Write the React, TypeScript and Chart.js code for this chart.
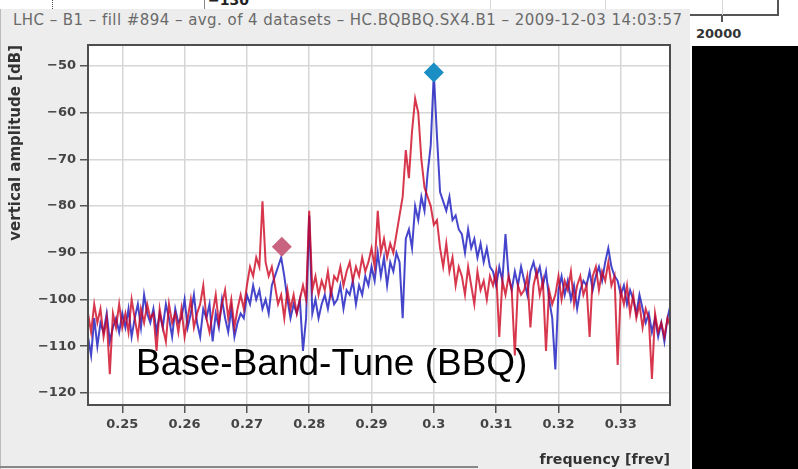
import React, { useEffect, useRef } from "react";
import { Chart, registerables } from "chart.js";

Chart.register(...registerables);

// FFT bin grid of the spectrum (revolution-frequency units)
const FREQ_START = 0.2445;
const FREQ_STEP = 0.0005;

// averaged spectrum, red trace [dB]
const RED_DB = [
  -103, -107, -101, -105, -102, -108, -104, -116, -103, -106,
  -101, -106, -103, -107, -100, -104, -108, -102, -105, -101,
  -104, -103, -111, -102, -106, -109, -101, -105, -103, -107,
  -102, -108, -104, -100, -106, -103, -101, -97, -104, -107,
  -103, -99, -105, -101, -98, -104, -100, -106, -102, -99,
  -102, -97, -93, -95, -91, -93, -79, -92, -95, -93,
  -97, -101, -99, -104, -98, -102, -99, -103, -100, -97,
  -100, -81, -98, -95, -99, -96, -98, -94, -99, -95,
  -96, -93, -97, -94, -92, -96, -93, -95, -91, -94,
  -92, -89, -93, -81, -90, -87, -91, -88, -90, -86,
  -82, -78, -68, -74, -64, -57, -60, -70, -76, -78,
  -80, -84, -83, -89, -93, -88, -94, -91, -97, -93,
  -95, -99, -93, -97, -101, -94, -98, -96, -100, -95,
  -97, -94, -108, -96, -99, -95, -98, -112, -97, -99,
  -98, -95, -106, -97, -94, -99, -96, -111, -98, -101,
  -99, -95, -100, -96, -98, -94, -101, -97, -95, -99,
  -97, -108, -95, -93, -98, -94, -96, -92, -97, -95,
  -114, -98, -101, -97, -103, -99, -104, -101, -106, -102,
  -104, -117, -103, -107, -105, -108, -104, -106,
];

// averaged spectrum, blue trace [dB]
const BLUE_DB = [
  -108, -112, -104, -110, -105, -107, -103, -109, -106, -104,
  -107, -103, -106, -102, -108, -104, -101, -106, -99, -103,
  -105, -102, -107, -103, -106, -101, -104, -108, -102, -105,
  -104, -100, -106, -103, -99, -105, -108, -102, -104, -101,
  -109, -103, -106, -100, -104, -107, -102, -108, -105, -103,
  -104, -99, -101, -97, -100, -98, -102, -100, -103, -97,
  -95, -93, -91, -95, -100, -104, -101, -103, -100, -111,
  -104, -82, -103, -100, -104, -101, -99, -102, -98, -101,
  -100, -97, -102, -98, -99, -96, -101, -97, -99, -95,
  -97, -93, -96, -90, -95, -91, -97, -92, -94, -90,
  -92, -104, -87, -85, -89, -80, -83, -78, -81, -73,
  -67, -51.5, -65, -77, -79, -81, -78, -83, -82, -85,
  -86, -90, -85, -89, -87, -91, -88, -92, -89, -93,
  -94, -97, -93, -96, -86, -95, -98, -94, -97, -93,
  -96, -99, -94, -92, -95, -93, -97, -94, -100, -104,
  -115, -98, -95, -99, -96, -100, -97, -102, -98, -96,
  -97, -94, -98, -95, -93, -96, -92, -89, -93, -95,
  -96, -99, -97, -101, -98, -100, -103, -99, -102, -105,
  -103, -107, -104, -108, -105, -109, -104, -101,
];

// detected tune peaks
const MARKER_FREQ = [0.3, 0.2756];
const MARKER_DB = [-51.4, -88.7];
const MARKER_COLORS = ["#1b8ec4", "#c8647f"];

const X_TICKS = [0.25, 0.26, 0.27, 0.28, 0.29, 0.3, 0.31, 0.32, 0.33];
const Y_TICKS = [-50, -60, -70, -80, -90, -100, -110, -120];
const X_MIN = 0.2445;
const X_MAX = 0.3379;
const Y_MIN = -122.6;
const Y_MAX = -45.5;

const TITLE = "LHC \u2013 B1 \u2013 fill #894 \u2013 avg. of 4 datasets \u2013 HC.BQBBQ.SX4.B1 \u2013 2009-12-03 14:03:57";
const OVERLAY = "Base-Band-Tune (BBQ)";

const toXY = (vals: number[]) =>
  vals.map((y, i) => ({ x: +(FREQ_START + i * FREQ_STEP).toFixed(5), y }));

const framePlugin = {
  id: "frame",
  beforeDraw(chart: any) {
    const { ctx, chartArea: a } = chart;
    ctx.save();
    ctx.fillStyle = "#ffffff";
    ctx.fillRect(a.left, a.top, a.right - a.left, a.bottom - a.top);
    ctx.restore();
  },
  afterDraw(chart: any) {
    const { ctx, chartArea: a } = chart;
    ctx.save();
    ctx.strokeStyle = "#4e4e4e";
    ctx.lineWidth = 2;
    ctx.strokeRect(a.left, a.top, a.right - a.left, a.bottom - a.top);
    ctx.restore();
  },
};

const FAMILY = "'DejaVu Sans', sans-serif";
const tickFont = { family: FAMILY, weight: "bold" as const, size: 13 };

export default function App() {
  const ref = useRef<HTMLCanvasElement | null>(null);

  useEffect(() => {
    if (!ref.current) return;
    const chart = new Chart(ref.current, {
      type: "line",
      data: {
        datasets: [
          {
            label: "peaks",
            data: MARKER_FREQ.map((x, i) => ({ x, y: MARKER_DB[i] })),
            showLine: false,
            pointStyle: "rectRot",
            pointRadius: 10,
            pointBorderWidth: 0,
            pointBackgroundColor: MARKER_COLORS,
            borderColor: "rgba(0,0,0,0)",
          } as any,
          {
            label: "red",
            data: toXY(RED_DB),
            borderColor: "rgba(205,0,28,0.78)",
            borderWidth: 2,
            pointRadius: 0,
            tension: 0,
          },
          {
            label: "blue",
            data: toXY(BLUE_DB),
            borderColor: "rgba(18,18,190,0.78)",
            borderWidth: 2,
            pointRadius: 0,
            tension: 0,
          },
        ],
      },
      options: {
        animation: false,
        responsive: false,
        maintainAspectRatio: false,
        layout: { padding: { left: 0, top: 45, right: 20, bottom: 0 } },
        plugins: {
          legend: { display: false },
          tooltip: { enabled: false },
        },
        scales: {
          x: {
            type: "linear",
            min: X_MIN,
            max: X_MAX,
            afterBuildTicks: (s: any) => {
              s.ticks = X_TICKS.map((v) => ({ value: v }));
            },
            afterFit: (s: any) => {
              s.height = 64;
            },
            grid: {
              color: "#d6d6d6",
              lineWidth: 1.5,
              tickColor: "#555",
              tickLength: 8,
              tickWidth: 1.5,
            },
            border: { color: "#4e4e4e", width: 2 },
            ticks: {
              font: tickFont,
              color: "#444",
              padding: 4,
              maxRotation: 0,
              autoSkip: false,
              callback: (v: any) => String(Math.round(Number(v) * 100) / 100),
            },
            title: {
              display: true,
              text: "frequency [frev]",
              align: "end",
              color: "#333",
              font: { family: FAMILY, weight: "bold" as const, size: 14.2 },
              padding: { top: 12, bottom: 0 },
            },
          },
          y: {
            type: "linear",
            min: Y_MIN,
            max: Y_MAX,
            afterBuildTicks: (s: any) => {
              s.ticks = Y_TICKS.map((v) => ({ value: v }));
            },
            afterFit: (s: any) => {
              s.width = 88;
            },
            grid: {
              color: "#d6d6d6",
              lineWidth: 1.5,
              tickColor: "#555",
              tickLength: 8,
              tickWidth: 1.5,
            },
            border: { color: "#4e4e4e", width: 2 },
            ticks: {
              font: tickFont,
              color: "#444",
              padding: 4,
              autoSkip: false,
              callback: (v: any) => {
                const n = Number(v);
                return n < 0 ? "\u2212" + Math.abs(n) : String(n);
              },
            },
            title: {
              display: true,
              text: "vertical amplitude [dB]",
              align: "end",
              color: "#333",
              font: { family: FAMILY, weight: "bold" as const, size: 15 },
              padding: { top: 7, bottom: 0 },
            },
          },
        },
      },
      plugins: [framePlugin],
    });
    return () => chart.destroy();
  }, []);

  return (
    <div
      style={{
        position: "fixed",
        left: 0,
        top: 0,
        width: 798,
        height: 469,
        background: "#ffffff",
        overflow: "hidden",
      }}
    >
      {/* remnants of the chart window above */}
      <div
        style={{
          position: "absolute",
          left: 204,
          top: -20,
          width: 572,
          height: 34,
          background: "#ffffff",
          borderLeft: "1px solid #888",
          borderRight: "2px solid #555",
          borderBottom: "2px solid #555",
        }}
      />
      {[490, 605, 722].map((x) => (
        <div
          key={x}
          style={{ position: "absolute", left: x, top: 0, width: 1, height: 15, background: "#d6d6d6" }}
        />
      ))}
      <div style={{ position: "absolute", left: 721, top: 15, width: 1.5, height: 7, background: "#555" }} />
      <div
        style={{
          position: "absolute",
          left: 52,
          top: 0,
          width: 0,
          height: 9,
          borderLeft: "1px dotted #555",
        }}
      />
      <div
        style={{
          position: "absolute",
          left: 208,
          top: -7,
          font: "bold 14px 'DejaVu Sans', sans-serif",
          lineHeight: "14px",
          color: "#222",
        }}
      >
        {"\u2212130"}
      </div>
      <div
        style={{
          position: "absolute",
          left: 696,
          top: 27,
          font: "bold 13px 'DejaVu Sans', sans-serif",
          lineHeight: "14px",
          color: "#333",
        }}
      >
        20000
      </div>

      {/* main plot panel */}
      <div
        style={{
          position: "absolute",
          left: 0,
          top: 9,
          width: 690,
          height: 460,
          background: "#ededed",
          borderLeft: "1px solid #bbb",
          boxSizing: "border-box",
        }}
      />
      <div style={{ position: "absolute", left: 0, top: 466, width: 478, height: 1.5, background: "#888" }} />
      <div
        style={{
          position: "absolute",
          left: 13,
          top: 13,
          whiteSpace: "nowrap",
          font: "15px 'DejaVu Sans', sans-serif",
          lineHeight: "15px",
          color: "#6a6a6a",
          letterSpacing: "0.45px",
        }}
      >
        {TITLE}
      </div>
      <canvas
        ref={ref}
        width={690}
        height={469}
        style={{ position: "absolute", left: 0, top: 0, width: 690, height: 469 }}
      />
      <div
        style={{
          position: "absolute",
          left: 136,
          top: 344,
          whiteSpace: "nowrap",
          font: "37px 'Liberation Sans', Arial, sans-serif",
          lineHeight: "37px",
          color: "#000",
        }}
      >
        {OVERLAY}
      </div>

      {/* black area on the right */}
      <div style={{ position: "absolute", left: 692, top: 46, width: 106, height: 423, background: "#000" }} />
    </div>
  );
}
